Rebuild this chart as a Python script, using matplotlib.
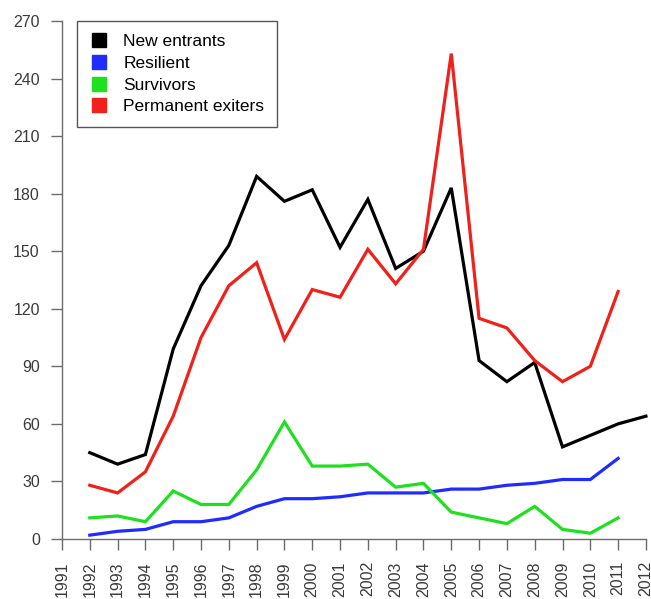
"""Firm dynamics by cohort, 1992-2012."""

import matplotlib

matplotlib.use("Agg")
import matplotlib.pyplot as plt  # noqa: E402
from matplotlib.lines import Line2D  # noqa: E402

YEARS = list(range(1992, 2013))
NEW_ENTRANTS = [45, 39, 44, 99, 132, 153, 189, 176, 182, 152, 177,
                141, 150, 183, 93, 82, 92, 48, 54, 60, 64]
# the other three series stop at 2011
RESILIENT = [2, 4, 5, 9, 9, 11, 17, 21, 21, 22, 24,
             24, 24, 26, 26, 28, 29, 31, 31, 42]
SURVIVORS = [11, 12, 9, 25, 18, 18, 36, 61, 38, 38, 39,
             27, 29, 14, 11, 8, 17, 5, 3, 11]
EXITERS = [28, 24, 35, 64, 105, 132, 144, 104, 130, 126, 151,
           133, 151, 253, 115, 110, 93, 82, 90, 129]

X_TICKS = list(range(1991, 2013))
Y_TICKS = list(range(0, 271, 30))

AXIS = "#6b6b6b"
TEXT = "#3a3a3a"

plt.rcParams.update({
    "font.family": ["Liberation Sans", "DejaVu Sans"],
    "font.size": 11,
})

fig = plt.figure(figsize=(6.51, 5.99), dpi=100)
ax = fig.add_axes([0.0952, 0.1002, 0.897, 0.8648])

series = (
    ("New entrants", NEW_ENTRANTS, "#000000"),
    ("Resilient", RESILIENT, "#1f2bff"),
    ("Survivors", SURVIVORS, "#1ee01e"),
    ("Permanent exiters", EXITERS, "#f0201a"),
)
for label, values, color in series:
    ax.plot(YEARS[:len(values)], values, color=color, linewidth=2.3,
            solid_joinstyle="miter", clip_on=False)

ax.set_xlim(1991, 2012)
ax.set_ylim(0, 270)
ax.set_xticks(X_TICKS)
ax.set_xticklabels([str(y) for y in X_TICKS], rotation=90)
ax.set_yticks(Y_TICKS)

for side in ("top", "right"):
    ax.spines[side].set_visible(False)
for side in ("left", "bottom"):
    ax.spines[side].set_color(AXIS)
    ax.spines[side].set_linewidth(1.0)
ax.tick_params(length=8, width=1.0, color=AXIS, labelcolor=TEXT,
               labelsize=11.5, pad=8)

handles = [
    Line2D([], [], marker="s", linestyle="", markersize=10,
           markerfacecolor=color, markeredgecolor=color, label=label)
    for label, _, color in series
]
leg = ax.legend(
    handles=handles, loc="upper left", bbox_to_anchor=(0.026, 1.0),
    borderaxespad=0, fancybox=False, edgecolor="#555555", framealpha=1,
    fontsize=12.5, labelspacing=0.38, handlelength=1.0, handletextpad=0.9,
    borderpad=0.75,
)
leg.get_frame().set_linewidth(1.0)

fig.savefig("out.png", dpi=100)
